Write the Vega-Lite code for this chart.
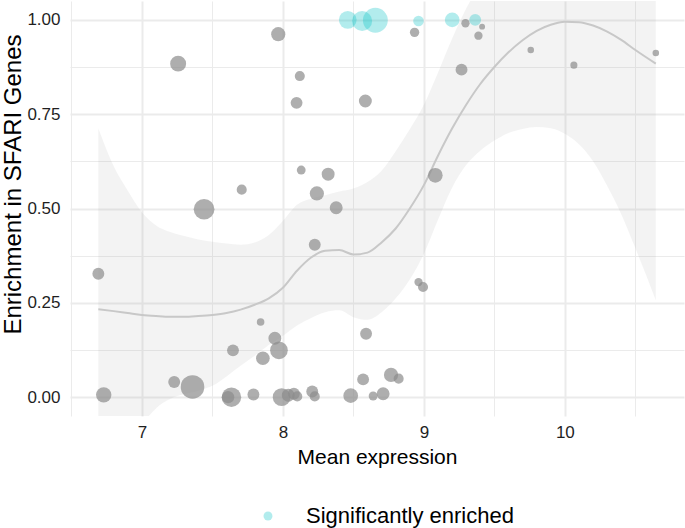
{
  "$schema": "https://vega.github.io/schema/vega-lite/v6.json",
  "width": 614,
  "height": 415,
  "autosize": {"type": "none"},
  "padding": {"left": 70, "top": 1, "right": 1, "bottom": 112},
  "background": "white",
  "config": {
    "view": {"stroke": null},
    "font": "Liberation Sans",
    "axis": {
      "domain": false,
      "ticks": false,
      "gridColor": "#EBEBEB",
      "labelColor": "#1f1f1f",
      "labelFont": "Liberation Sans",
      "titleFont": "Liberation Sans",
      "titleColor": "#000000",
      "titleFontWeight": "normal"
    },
    "legend": {"labelFont": "Liberation Sans"}
  },
  "datasets": {
    "points": [
      {"expr": 8.46, "enrichment": 1.0, "genes": 300, "status": "Significantly enriched"},
      {"expr": 8.562, "enrichment": 0.997, "genes": 383, "status": "Significantly enriched"},
      {"expr": 8.656, "enrichment": 0.999, "genes": 588, "status": "Significantly enriched"},
      {"expr": 8.962, "enrichment": 0.997, "genes": 108, "status": "Significantly enriched"},
      {"expr": 9.201, "enrichment": 1.0, "genes": 207, "status": "Significantly enriched"},
      {"expr": 9.364, "enrichment": 1.0, "genes": 135, "status": "Significantly enriched"},
      {"expr": 7.967, "enrichment": 0.962, "genes": 192, "status": "Not significant"},
      {"expr": 7.257, "enrichment": 0.884, "genes": 243, "status": "Not significant"},
      {"expr": 8.12, "enrichment": 0.851, "genes": 97, "status": "Not significant"},
      {"expr": 8.097, "enrichment": 0.78, "genes": 135, "status": "Not significant"},
      {"expr": 8.585, "enrichment": 0.785, "genes": 160, "status": "Not significant"},
      {"expr": 8.13, "enrichment": 0.602, "genes": 75, "status": "Not significant"},
      {"expr": 8.321, "enrichment": 0.591, "genes": 160, "status": "Not significant"},
      {"expr": 8.241, "enrichment": 0.54, "genes": 192, "status": "Not significant"},
      {"expr": 8.378, "enrichment": 0.502, "genes": 160, "status": "Not significant"},
      {"expr": 7.708, "enrichment": 0.55, "genes": 97, "status": "Not significant"},
      {"expr": 7.441, "enrichment": 0.498, "genes": 411, "status": "Not significant"},
      {"expr": 8.934, "enrichment": 0.967, "genes": 84, "status": "Not significant"},
      {"expr": 9.295, "enrichment": 0.991, "genes": 66, "status": "Not significant"},
      {"expr": 9.413, "enrichment": 0.982, "genes": 33, "status": "Not significant"},
      {"expr": 9.387, "enrichment": 0.958, "genes": 66, "status": "Not significant"},
      {"expr": 9.758, "enrichment": 0.92, "genes": 41, "status": "Not significant"},
      {"expr": 10.064, "enrichment": 0.88, "genes": 48, "status": "Not significant"},
      {"expr": 10.645, "enrichment": 0.912, "genes": 41, "status": "Not significant"},
      {"expr": 9.267, "enrichment": 0.868, "genes": 135, "status": "Not significant"},
      {"expr": 9.081, "enrichment": 0.588, "genes": 207, "status": "Not significant"},
      {"expr": 8.226, "enrichment": 0.404, "genes": 135, "status": "Not significant"},
      {"expr": 6.691, "enrichment": 0.327, "genes": 135, "status": "Not significant"},
      {"expr": 7.842, "enrichment": 0.199, "genes": 55, "status": "Not significant"},
      {"expr": 7.943, "enrichment": 0.156, "genes": 160, "status": "Not significant"},
      {"expr": 7.646, "enrichment": 0.124, "genes": 135, "status": "Not significant"},
      {"expr": 7.972, "enrichment": 0.124, "genes": 300, "status": "Not significant"},
      {"expr": 7.858, "enrichment": 0.103, "genes": 178, "status": "Not significant"},
      {"expr": 8.59, "enrichment": 0.168, "genes": 135, "status": "Not significant"},
      {"expr": 8.569, "enrichment": 0.047, "genes": 135, "status": "Not significant"},
      {"expr": 6.729, "enrichment": 0.006, "genes": 227, "status": "Not significant"},
      {"expr": 7.229, "enrichment": 0.04, "genes": 135, "status": "Not significant"},
      {"expr": 7.359, "enrichment": 0.027, "genes": 531, "status": "Not significant"},
      {"expr": 7.635, "enrichment": 0.0, "genes": 363, "status": "Not significant"},
      {"expr": 7.611, "enrichment": 0.0, "genes": 147, "status": "Not significant"},
      {"expr": 7.791, "enrichment": 0.007, "genes": 135, "status": "Not significant"},
      {"expr": 7.991, "enrichment": 0.0, "genes": 300, "status": "Not significant"},
      {"expr": 8.038, "enrichment": 0.005, "genes": 160, "status": "Not significant"},
      {"expr": 8.078, "enrichment": 0.009, "genes": 135, "status": "Not significant"},
      {"expr": 8.102, "enrichment": 0.002, "genes": 97, "status": "Not significant"},
      {"expr": 8.208, "enrichment": 0.015, "genes": 135, "status": "Not significant"},
      {"expr": 8.226, "enrichment": 0.002, "genes": 97, "status": "Not significant"},
      {"expr": 8.481, "enrichment": 0.004, "genes": 207, "status": "Not significant"},
      {"expr": 8.64, "enrichment": 0.003, "genes": 75, "status": "Not significant"},
      {"expr": 8.711, "enrichment": 0.009, "genes": 160, "status": "Not significant"},
      {"expr": 8.767, "enrichment": 0.059, "genes": 192, "status": "Not significant"},
      {"expr": 8.821, "enrichment": 0.049, "genes": 97, "status": "Not significant"},
      {"expr": 8.962, "enrichment": 0.305, "genes": 66, "status": "Not significant"},
      {"expr": 8.994, "enrichment": 0.292, "genes": 97, "status": "Not significant"}
    ],
    "smooth": [
      {"expr": 6.691, "fit": 0.233, "lo": -0.45, "hi": 0.712},
      {"expr": 6.8, "fit": 0.228, "lo": -0.3, "hi": 0.612},
      {"expr": 6.9, "fit": 0.223, "lo": -0.19, "hi": 0.547},
      {"expr": 7.0, "fit": 0.218, "lo": -0.08, "hi": 0.49},
      {"expr": 7.1, "fit": 0.215, "lo": -0.03, "hi": 0.455},
      {"expr": 7.2, "fit": 0.213, "lo": -0.005, "hi": 0.438},
      {"expr": 7.3, "fit": 0.213, "lo": 0.008, "hi": 0.427},
      {"expr": 7.4, "fit": 0.215, "lo": 0.017, "hi": 0.418},
      {"expr": 7.5, "fit": 0.218, "lo": 0.03, "hi": 0.412},
      {"expr": 7.6, "fit": 0.223, "lo": 0.055, "hi": 0.407},
      {"expr": 7.7, "fit": 0.232, "lo": 0.083, "hi": 0.404},
      {"expr": 7.8, "fit": 0.245, "lo": 0.11, "hi": 0.41},
      {"expr": 7.9, "fit": 0.262, "lo": 0.138, "hi": 0.43},
      {"expr": 8.0, "fit": 0.29, "lo": 0.163, "hi": 0.467},
      {"expr": 8.1, "fit": 0.335, "lo": 0.19, "hi": 0.51},
      {"expr": 8.2, "fit": 0.37, "lo": 0.21, "hi": 0.526},
      {"expr": 8.3, "fit": 0.388, "lo": 0.225, "hi": 0.535},
      {"expr": 8.4, "fit": 0.39, "lo": 0.23, "hi": 0.545},
      {"expr": 8.5, "fit": 0.378, "lo": 0.212, "hi": 0.553},
      {"expr": 8.6, "fit": 0.383, "lo": 0.205, "hi": 0.57},
      {"expr": 8.7, "fit": 0.41, "lo": 0.225, "hi": 0.6},
      {"expr": 8.8, "fit": 0.447, "lo": 0.262, "hi": 0.652},
      {"expr": 8.9, "fit": 0.5, "lo": 0.312, "hi": 0.71},
      {"expr": 9.0, "fit": 0.562, "lo": 0.38, "hi": 0.775},
      {"expr": 9.1, "fit": 0.64, "lo": 0.47, "hi": 0.86},
      {"expr": 9.2, "fit": 0.712, "lo": 0.555, "hi": 0.95},
      {"expr": 9.3, "fit": 0.775, "lo": 0.615, "hi": 1.03},
      {"expr": 9.4, "fit": 0.83, "lo": 0.653, "hi": 1.1},
      {"expr": 9.5, "fit": 0.875, "lo": 0.68, "hi": 1.2},
      {"expr": 9.6, "fit": 0.914, "lo": 0.7, "hi": 1.3},
      {"expr": 9.7, "fit": 0.946, "lo": 0.711, "hi": 1.4},
      {"expr": 9.8, "fit": 0.971, "lo": 0.716, "hi": 1.5},
      {"expr": 9.9, "fit": 0.987, "lo": 0.713, "hi": 1.6},
      {"expr": 10.0, "fit": 0.995, "lo": 0.698, "hi": 1.7},
      {"expr": 10.1, "fit": 0.994, "lo": 0.67, "hi": 1.8},
      {"expr": 10.2, "fit": 0.985, "lo": 0.625, "hi": 1.9},
      {"expr": 10.3, "fit": 0.969, "lo": 0.56, "hi": 2.0},
      {"expr": 10.4, "fit": 0.947, "lo": 0.485, "hi": 2.1},
      {"expr": 10.5, "fit": 0.92, "lo": 0.395, "hi": 2.2},
      {"expr": 10.645, "fit": 0.884, "lo": 0.257, "hi": 2.3}
    ]
  },
  "layer": [
    {
      "data": {"name": "smooth"},
      "mark": {"type": "area", "clip": true, "color": "#999999", "opacity": 0.12, "interpolate": "monotone"},
      "encoding": {
        "x": {
          "field": "expr", "type": "quantitative",
          "scale": {"domain": [6.49, 10.845], "nice": false, "zero": false},
          "axis": {
            "values": [6.5, 7, 7.5, 8, 8.5, 9, 9.5, 10, 10.5],
            "labelExpr": "datum.value % 1 === 0 ? format(datum.value, 'd') : ''",
            "labelFontSize": 17,
            "labelPadding": 8,
            "gridWidth": {"condition": {"test": "datum.value % 1 !== 0", "value": 1}, "value": 2},
            "title": "Mean expression",
            "titleFontSize": 21,
            "titleBaseline": "alphabetic",
            "titleY": 47
          }
        },
        "y": {
          "field": "lo", "type": "quantitative",
          "scale": {"domain": [-0.05, 1.05], "nice": false, "zero": false},
          "axis": {
            "values": [0, 0.125, 0.25, 0.375, 0.5, 0.625, 0.75, 0.875, 1],
            "labelExpr": "(datum.value * 4) % 1 === 0 ? format(datum.value, '.2f') : ''",
            "labelFontSize": 17,
            "labelPadding": 10,
            "gridWidth": {"condition": {"test": "(datum.value * 4) % 1 !== 0", "value": 1}, "value": 2},
            "title": "Enrichment in SFARI Genes",
            "titleFontSize": 24,
            "titleBaseline": "alphabetic",
            "titleX": -50,
            "titleY": 183
          }
        },
        "y2": {"field": "hi"}
      }
    },
    {
      "data": {"name": "smooth"},
      "mark": {"type": "line", "color": "#c8c8c8", "strokeWidth": 2, "clip": true, "interpolate": "monotone"},
      "encoding": {
        "x": {"field": "expr", "type": "quantitative"},
        "y": {"field": "fit", "type": "quantitative"}
      }
    },
    {
      "data": {"name": "points"},
      "mark": {"type": "point", "filled": true, "shape": "circle", "strokeWidth": 0},
      "encoding": {
        "x": {"field": "expr", "type": "quantitative"},
        "y": {"field": "enrichment", "type": "quantitative"},
        "size": {
          "field": "genes", "type": "quantitative",
          "scale": {"type": "linear", "zero": true, "domain": [0, 600], "range": [0, 628]},
          "legend": null
        },
        "color": {
          "field": "status", "type": "nominal",
          "scale": {"domain": ["Significantly enriched", "Not significant"], "range": ["#00BFC4", "#8c8c8c"]},
          "legend": {
            "values": ["Significantly enriched"],
            "title": null,
            "orient": "none",
            "legendX": 187,
            "legendY": 504,
            "padding": 0,
            "symbolType": "circle",
            "symbolSize": 80,
            "symbolOpacity": 0.3,
            "symbolStrokeWidth": 0,
            "labelFontSize": 22,
            "labelLimit": 400,
            "labelColor": "#000000",
            "labelOffset": 27
          }
        },
        "opacity": {
          "field": "status", "type": "nominal",
          "scale": {"domain": ["Significantly enriched", "Not significant"], "range": [0.3, 0.7]},
          "legend": null
        }
      }
    }
  ]
}
